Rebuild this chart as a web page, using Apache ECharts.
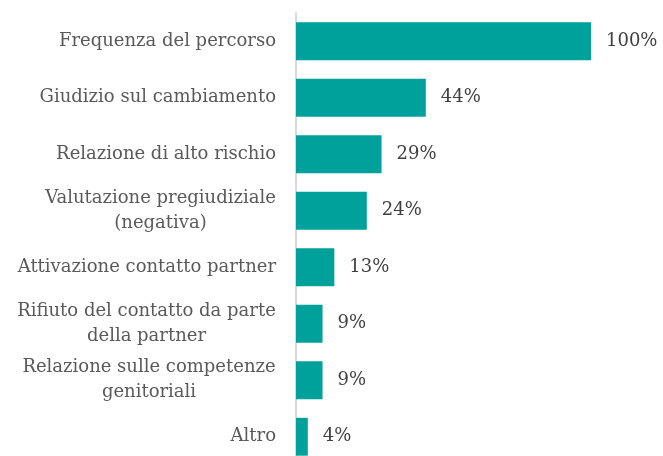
<!DOCTYPE html>
<html>
<head>
<meta charset="utf-8">
<script src="https://cdn.jsdelivr.net/npm/echarts@6/dist/echarts.min.js"></script>
<style>
  html, body { margin: 0; padding: 0; background: #fff; }
  #chart { width: 663px; height: 456px; }
</style>
</head>
<body>
<div id="chart"></div>
<script>
const categories = [
  'Frequenza del percorso',
  'Giudizio sul cambiamento',
  'Relazione di alto rischio',
  'Valutazione pregiudiziale\n(negativa)',
  'Attivazione contatto partner',
  'Rifiuto del contatto da parte\ndella partner',
  'Relazione sulle competenze\ngenitoriali',
  'Altro'
];
const values = [100, 44, 29, 24, 13, 9, 9, 4];

const font = '"DejaVu Serif", serif';
const labelSize = 18;

// multi-line labels: lines centred on each other, block right-aligned
const ctx = document.createElement('canvas').getContext('2d');
ctx.font = labelSize + 'px ' + font;
const rich = {};
categories.forEach((c, i) => {
  const w = Math.max(...c.split('\n').map(l => ctx.measureText(l).width));
  rich['l' + i] = { width: Math.ceil(w), align: 'center', lineHeight: 25,
    color: '#595959', fontFamily: font, fontSize: labelSize };
});

const chart = echarts.init(document.getElementById('chart'));
chart.setOption({
  animation: false,
  grid: {
    left: 296, width: 295, top: 13, height: 452,
    containLabel: false, outerBoundsMode: 'none'
  },
  xAxis: {
    type: 'value',
    min: 0,
    max: 100,
    show: false
  },
  yAxis: {
    type: 'category',
    inverse: true,
    data: categories,
    axisLine: { show: true, lineStyle: { color: '#d9d9d9', width: 2 } },
    axisTick: { show: false },
    axisLabel: {
      margin: 20,
      color: '#595959',
      fontFamily: font,
      fontSize: labelSize,
      lineHeight: 25,
      align: 'right',
      formatter: (v, i) => {
        if (v.indexOf('\n') < 0) return v;
        return v.split('\n').map(l => '{l' + i + '|' + l + '}').join('\n');
      },
      rich: rich
    }
  },
  series: [{
    type: 'bar',
    data: values,
    barCategoryGap: '33%',
    itemStyle: { color: '#00A19A' },
    label: {
      show: true,
      position: 'right',
      distance: 15,
      formatter: '{c}%',
      color: '#404040',
      fontFamily: font,
      fontSize: 18
    }
  }]
});
</script>
</body>
</html>
